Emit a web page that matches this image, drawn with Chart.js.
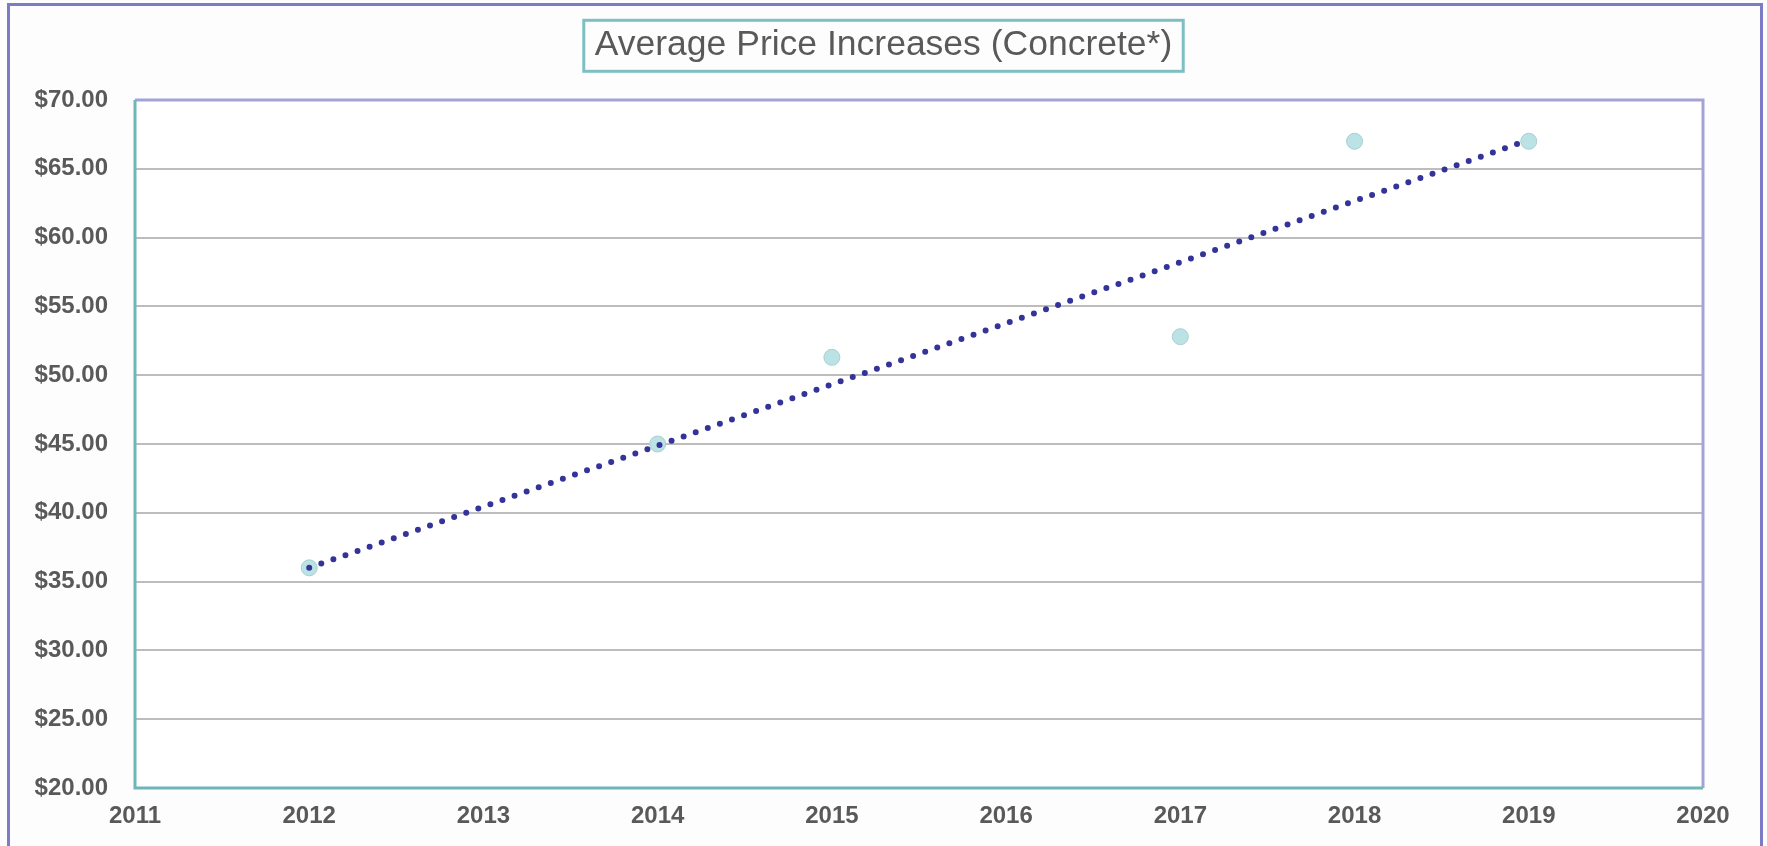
<!DOCTYPE html>
<html>
<head>
<meta charset="utf-8">
<script src="https://cdn.jsdelivr.net/npm/chart.js@4/dist/chart.umd.min.js"></script>
<style>
  html, body { margin: 0; padding: 0; background: #FDFDFD; }
  #wrap { width: 1767px; height: 846px; position: relative; }
</style>
</head>
<body>
<div id="wrap"><canvas id="c" width="1767" height="846"></canvas></div>
<script>
// ---- data ----
const chartTitle = 'Average Price Increases (Concrete*)';
const years = [2012, 2014, 2015, 2017, 2018, 2019];
const prices = [36.0, 45.0, 51.3, 52.8, 67.0, 67.0];
const trendYears = [2012, 2019];
const trendPrices = [36.0, 67.1];
const xTickLabels = ['2011', '2012', '2013', '2014', '2015', '2016', '2017', '2018', '2019', '2020'];
const yTickLabels = ['$20.00', '$25.00', '$30.00', '$35.00', '$40.00', '$45.00', '$50.00', '$55.00', '$60.00', '$65.00', '$70.00'];
const xMin = 2011, xMax = 2020, yMin = 20, yMax = 70, yStep = 5;

const points = years.map((x, i) => ({ x: x, y: prices[i] }));
const trend = trendYears.map((x, i) => ({ x: x, y: trendPrices[i] }));

const TITLE_FONT = { family: "'Liberation Sans', Arial, sans-serif", size: 35.5, weight: 'normal', lineHeight: 1.2 };
const TICK_FONT = { family: "'Liberation Sans', Arial, sans-serif", size: 24, weight: 'bold' };

const decor = {
  id: 'decor',
  beforeDraw(chart) {
    const ctx = chart.ctx, a = chart.chartArea;
    ctx.save();
    ctx.fillStyle = '#FDFDFD';
    ctx.fillRect(0, 0, chart.width, chart.height);
    ctx.fillStyle = '#FFFFFF';
    ctx.fillRect(a.left, a.top, a.right - a.left, a.bottom - a.top);
    ctx.restore();
  },
  afterDraw(chart) {
    const ctx = chart.ctx, a = chart.chartArea;
    ctx.save();
    // plot border: top/right lavender, left/bottom teal
    ctx.lineWidth = 3;
    ctx.strokeStyle = '#A3A3D8';
    ctx.beginPath();
    ctx.moveTo(a.left, a.top); ctx.lineTo(a.right, a.top); ctx.lineTo(a.right, a.bottom);
    ctx.stroke();
    ctx.strokeStyle = '#6FB6BA';
    ctx.beginPath();
    ctx.moveTo(a.left, a.top); ctx.lineTo(a.left, a.bottom); ctx.lineTo(a.right, a.bottom);
    ctx.stroke();
    // outer frame
    ctx.strokeStyle = '#7C7CC6';
    ctx.lineWidth = 3;
    ctx.beginPath();
    ctx.moveTo(8.5, chart.height + 5); ctx.lineTo(8.5, 4.5); ctx.lineTo(1761.5, 4.5); ctx.lineTo(1761.5, chart.height + 5);
    ctx.stroke();
    // title box
    const tb = chart.titleBlock;
    ctx.font = TITLE_FONT.weight + ' ' + TITLE_FONT.size + 'px ' + TITLE_FONT.family;
    const w = ctx.measureText(chartTitle).width;
    const cx = (tb.left + tb.right) / 2;
    const cy = tb.top + tb.options.padding.top + TITLE_FONT.size * TITLE_FONT.lineHeight / 2;
    ctx.strokeStyle = '#7DBFC2';
    ctx.lineWidth = 3;
    ctx.strokeRect(cx - w / 2 - 11, cy - 25, w + 22, 51);
    ctx.restore();
  }
};

new Chart(document.getElementById('c'), {
  type: 'scatter',
  data: {
    datasets: [
      {
        label: 'Trend',
        type: 'line',
        data: trend,
        borderColor: '#33339A',
        borderWidth: 6,
        borderDash: [0, 12.8],
        borderCapStyle: 'round',
        pointRadius: 0,
        fill: false,
        tension: 0,
        order: 0
      },
      {
        label: 'Price',
        data: points,
        backgroundColor: '#BBE2E4',
        borderColor: '#AACFD2',
        borderWidth: 1,
        pointRadius: 8,
        pointHoverRadius: 8,
        order: 1
      }
    ]
  },
  options: {
    responsive: false,
    animation: false,
    devicePixelRatio: 1,
    layout: { padding: { left: 0, right: 0, top: 0, bottom: 0 } },
    plugins: {
      legend: { display: false },
      tooltip: { enabled: false },
      title: {
        display: true,
        text: chartTitle,
        color: '#595959',
        font: TITLE_FONT,
        padding: { top: 24, bottom: 33.4 }
      }
    },
    scales: {
      x: {
        type: 'linear',
        min: xMin, max: xMax,
        grid: { display: false, drawTicks: false },
        border: { display: false },
        ticks: {
          stepSize: 1,
          padding: 14,
          color: '#595959',
          font: TICK_FONT,
          maxRotation: 0,
          autoSkip: false,
          callback: (v) => xTickLabels[Math.round(v - xMin)]
        },
        afterFit(s) { s.height = 58; }
      },
      y: {
        min: yMin, max: yMax,
        grid: { color: '#BDBDBD', lineWidth: 2, drawTicks: false },
        border: { display: false },
        ticks: {
          stepSize: yStep,
          padding: 27,
          color: '#595959',
          font: TICK_FONT,
          callback: (v) => yTickLabels[Math.round((v - yMin) / yStep)]
        },
        afterFit(s) { s.width = 135; }
      },
      yRight: {
        type: 'linear',
        position: 'right',
        min: yMin, max: yMax,
        grid: { display: false, drawTicks: false },
        border: { display: false },
        ticks: { display: false },
        afterFit(s) { s.width = 64; }
      }
    }
  },
  plugins: [decor]
});
</script>
</body>
</html>
